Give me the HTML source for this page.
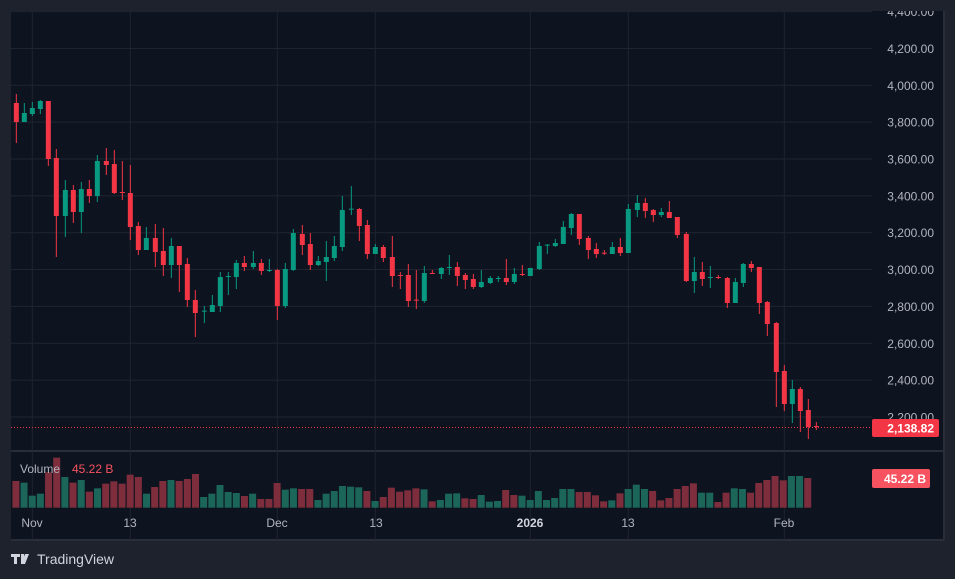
<!DOCTYPE html>
<html><head><meta charset="utf-8"><style>
html,body{margin:0;padding:0;background:#1e222d;width:955px;height:579px;overflow:hidden;font-family:"Liberation Sans",sans-serif}
</style></head><body>
<svg id="s" width="955" height="579" xmlns="http://www.w3.org/2000/svg" style="position:absolute;left:0;top:0">
<defs><clipPath id="cp"><rect x="11" y="11" width="933" height="529"/></clipPath></defs>
<rect x="0" y="0" width="955" height="579" fill="#1e222d"/>
<rect x="11" y="11" width="933" height="529" fill="#0e1320"/>
<line x1="11" y1="451" x2="944" y2="451" stroke="#2a2e39" stroke-width="2"/>
<line x1="944" y1="11" x2="944" y2="540" stroke="#2a2e39" stroke-width="2"/>
<line x1="11" y1="540" x2="944" y2="540" stroke="#2a2e39" stroke-width="2"/>
<g id="grid" stroke="#1f2430" stroke-width="1" clip-path="url(#cp)"></g>
<g id="vol"></g>
<g id="c1" transform="translate(0,80) scale(0.33333)"></g>
<g id="c2" transform="translate(400,180) scale(0.33333)"></g>
<line x1="11" y1="427.5" x2="872" y2="427.5" stroke="#f23645" stroke-width="1" stroke-dasharray="1,2"/>
<g font-size="12" fill="#b2b5be" text-anchor="end" id="plab" clip-path="url(#cp)"></g>
<rect x="872" y="419" width="67" height="18" rx="2" fill="#f23645"/>
<text x="934" y="432.5" font-size="12" fill="#fff" text-anchor="end" font-weight="bold">2,138.82</text>
<rect x="872" y="469" width="58" height="19" rx="2" fill="#f7525f"/>
<text x="926" y="483" font-size="12" fill="#fff" text-anchor="end" font-weight="bold">45.22 B</text>
<text x="20" y="473" font-size="12" fill="#b2b5be">Volume</text>
<text x="72" y="473" font-size="12" fill="#f7525f">45.22 B</text>
<g font-size="12" fill="#b2b5be" text-anchor="middle">
<text x="32" y="527">Nov</text><text x="130" y="527">13</text><text x="277" y="527">Dec</text><text x="376" y="527">13</text>
<text x="530" y="527" font-weight="bold" fill="#d1d4dc">2026</text><text x="628" y="527">13</text><text x="784" y="527">Feb</text>
</g>
<g fill="#d1d4dc"><rect x="11" y="554" width="9" height="3"/><rect x="14" y="554" width="3" height="10"/><rect x="21" y="554" width="3" height="10"/><polygon points="25,554 29,554 25,564 21,564"/></g>
<text x="37" y="564" font-size="14" fill="#d1d4dc">TradingView</text>
</svg>
<script>
var NS="http://www.w3.org/2000/svg";
function el(p,t,a){var e=document.createElementNS(NS,t);for(var k in a)e.setAttribute(k,a[k]);p.appendChild(e);return e;}
var g=document.getElementById('grid');
for(var i=0;i<12;i++){var y=11.6+36.85*i;if(y>450)break;el(g,'line',{x1:11,y1:y,x2:872,y2:y});}
[32.3,130.3,277.3,375.3,530.3,628.3,784.3].forEach(function(x){el(g,'line',{x1:x,y1:11,x2:x,y2:540});});
var pl=document.getElementById('plab');
var labs=["4,400.00","4,200.00","4,000.00","3,800.00","3,600.00","3,400.00","3,200.00","3,000.00","2,800.00","2,600.00","2,400.00","2,200.00"];
labs.forEach(function(t,i){var e=el(pl,'text',{x:934,y:11.6+36.85*i+4.5});e.textContent=t;});
var R="#f23645",G="#089981";
var c1=[[49,'r',69,126,42,189],[73,'g',99,126,69,126],[97,'g',84,102,66,108],[121,'g',63,87,60,102],[145,'r',63,237,63,258],[169,'r',234,408,207,531],[196,'g',330,408,300,471],[220,'r',330,396,315,429],[244,'g',327,396,306,459],[268,'r',327,348,300,369],[292,'g',243,348,225,366],[319,'r',243,255,204,285],[343,'r',252,339,210,342],[367,'r',336,339,243,360],[391,'r',339,441,255,480],[415,'r',438,510,426,525],[439,'g',474,510,441,510],[466,'r',474,516,432,561],[490,'r',513,555,444,588],[514,'g',498,555,474,594],[538,'r',498,555,498,636],[562,'r',552,660,534,681],[586,'r',660,699,630,771],[613,'g',692,695,678,729],[637,'g',675,696,645,696],[661,'g',591,678,576,696],[685,'g',588,591,576,645],[709,'g',549,591,540,627],[733,'r',549,561,528,573],[760,'g',549,561,513,567],[784,'r',549,573,537,585],[808,'g',570,573,537,576],[832,'r',570,678,567,720],[856,'g',567,678,549,684],[880,'g',459,570,447,573],[907,'r',462,495,435,525],[931,'r',492,555,459,570],[955,'g',543,555,528,558],[979,'g',531,546,483,603],[1003,'g',498,534,468,543],[1027,'g',390,501,348,513],[1054,'g',386,389,318,405],[1078,'r',387,438,384,483],[1102,'r',435,522,420,537],[1126,'g',501,522,492,522],[1150,'r',501,534,495,546],[1177,'r',531,588,468,621],[1201,'r',585,588,576,627],[1225,'r',585,663,552,681]];
var c2=[[49,'r',359,362,270,387],[73,'g',279,363,258,369],[97,'r',279,282,270,282],[124,'g',264,282,261,297],[148,'g',261,264,225,285],[172,'r',261,288,246,318],[196,'r',285,300,279,327],[220,'r',297,321,282,327],[244,'g',306,321,270,324],[271,'g',294,309,288,312],[295,'g',294,297,288,306],[319,'r',294,306,237,315],[343,'g',282,306,264,312],[367,'r',282,285,255,288],[391,'g',264,288,264,288],[418,'g',198,267,186,270],[442,'g',194,197,192,222],[466,'g',189,198,177,201],[490,'g',141,192,123,192],[514,'g',102,144,99,165],[538,'r',102,177,102,195],[565,'r',174,210,168,237],[589,'r',207,222,189,234],[613,'r',218,221,210,225],[637,'g',201,222,186,222],[661,'r',201,219,174,228],[685,'g',87,219,72,219],[712,'g',69,90,45,111],[736,'r',69,93,54,114],[760,'r',90,105,87,126],[784,'g',96,105,84,111],[808,'r',96,114,63,114],[832,'r',111,165,111,174],[859,'r',162,303,156,306],[883,'g',276,303,231,339],[907,'r',276,297,246,318],[931,'g',291,294,258,324],[955,'r',291,294,285,297],[982,'r',294,369,291,384],[1006,'g',306,369,294,369],[1030,'g',252,309,249,321],[1054,'r',252,264,243,276],[1078,'r',261,369,261,402],[1102,'r',366,432,363,468],[1129,'r',429,576,426,681],[1153,'r',573,672,555,693],[1177,'g',627,672,600,729],[1201,'r',627,693,621,756],[1225,'r',690,741,657,777],[1249,'r',738,741,726,750]];
function draw(id,arr){var p=document.getElementById(id);arr.forEach(function(c){var col=c[1]=='r'?R:G;
el(p,'rect',{x:c[0]-1.5,y:c[4],width:3,height:c[5]-c[4],fill:col});
el(p,'rect',{x:c[0]-7.5,y:c[2],width:15,height:Math.max(3,c[3]-c[2]),fill:col});});}
draw('c1',c1);draw('c2',c2);
var v=[['r',123],['g',128],['g',167],['g',161],['r',97],['r',53],['g',111],['r',128],['g',120],['r',155],['g',145],['r',131],['r',124],['r',131],['r',104],['r',111],['g',161],['r',141],['r',123],['g',120],['r',123],['r',117],['r',102],['g',171],['g',161],['g',135],['g',156],['g',159],['r',168],['g',161],['r',177],['r',177],['r',129],['g',149],['g',145],['r',147],['r',147],['g',180],['g',161],['g',153],['g',138],['g',140],['g',142],['r',153],['g',183],['r',171],['r',143],['r',155],['r',151],['r',145],['g',148],['r',184],['g',180],['g',161],['g',160],['r',175],['r',177],['g',165],['g',185],['g',183],['r',150],['r',165],['g',167],['g',180],['g',153],['g',180],['g',174],['g',147],['g',147],['r',156],['r',156],['r',166],['r',184],['g',181],['r',160],['g',147],['g',134],['g',147],['r',153],['r',181],['r',174],['r',147],['r',138],['r',130],['g',158],['g',158],['r',186],['r',158],['g',145],['g',147],['r',158],['r',129],['r',120],['r',108],['r',121],['g',108],['g',108],['r',114]];
var vg=document.getElementById('vol');
v.forEach(function(b,i){var x=16.3+8.163*i;var top=440+b[1]/3;
el(vg,'rect',{x:x-3.9,y:top,width:7,height:507.7-top,fill:b[0]=='r'?'#7d2d3b':'#1b6659'});});
</script>
</body></html>
